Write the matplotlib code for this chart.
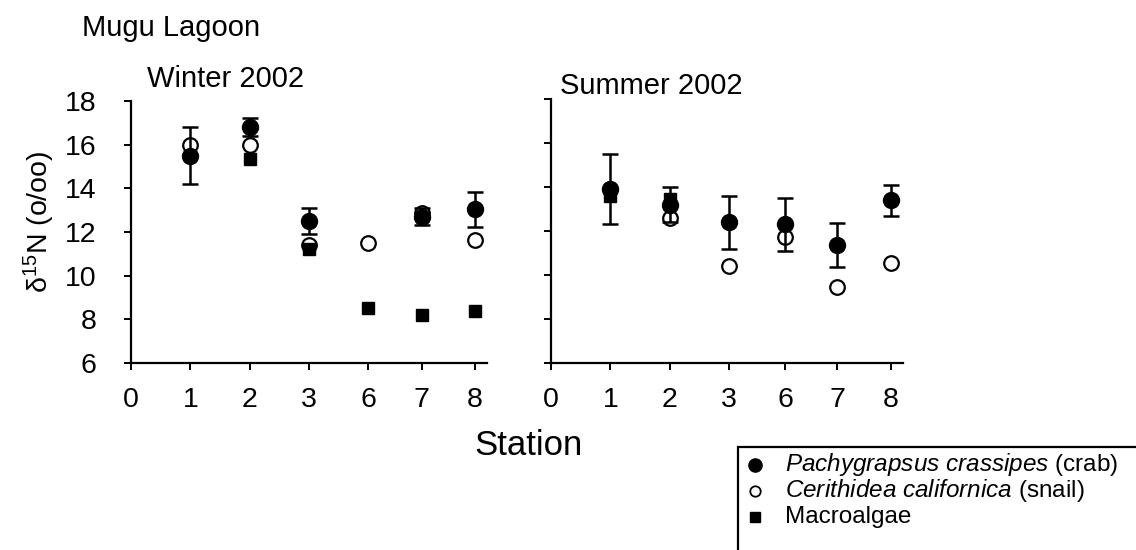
import numpy as np
import matplotlib
matplotlib.use("Agg")
import matplotlib.pyplot as plt
from matplotlib.lines import Line2D
from matplotlib.patches import Rectangle

plt.rcParams['font.family'] = ['Liberation Sans', 'DejaVu Sans']
plt.rcParams['mathtext.fontset'] = 'custom'
plt.rcParams['mathtext.rm'] = 'Liberation Sans'
plt.rcParams['mathtext.it'] = 'Liberation Sans:italic'

# ---- data ----
station_labels = ['0', '1', '2', '3', '6', '7', '8']
winter_pos = [0, 1, 2, 3, 4, 4.9, 5.8]
summer_pos = [0, 1, 2, 3, 3.95, 4.83, 5.73]

winter_crab = [15.5, 16.8, 12.5, np.nan, 12.7, 13.05]
winter_crab_err = [1.3, 0.4, 0.6, np.nan, 0.4, 0.8]
winter_snail = [16.0, 16.0, 11.4, 11.5, 12.85, 11.65]
winter_algae = [np.nan, 15.35, 11.2, 8.5, 8.2, 8.4]

summer_crab = [13.9, 13.2, 12.4, 12.3, 11.35, 13.4]
summer_crab_err = [1.6, 0.8, 1.2, 1.2, 1.0, 0.7]
summer_snail = [13.9, 12.6, 10.4, 11.75, 9.45, 10.55]
summer_algae = [13.6, 13.45, np.nan, np.nan, np.nan, np.nan]

W, H = 1136, 550
fig = plt.figure(figsize=(W / 100, H / 100), dpi=100)
fig.patch.set_facecolor('white')


def px_axes(x0, y0, x1, y1):
    return fig.add_axes([x0 / W, 1 - y1 / H, (x1 - x0) / W, (y1 - y0) / H])


ax1 = px_axes(131, 101, 487, 363)
ax2 = px_axes(551, 99, 903, 363)


def draw(ax, pos, crab, err, snail, algae, xmax, labels_y):
    xs = pos[1:]
    ax.plot(xs, snail, 'o', ms=10.5, mfc='white', mec='black', mew=1.6, ls='none', zorder=3)
    ax.errorbar(xs, crab, yerr=err, fmt='o', ms=11.5, mfc='black', mec='black',
                ecolor='black', elinewidth=1.8, capsize=6, capthick=1.8, zorder=4)
    ax.plot(xs, algae, 's', ms=9, mfc='black', mec='black', ls='none', zorder=5)
    ax.set_xlim(0, xmax)
    ax.set_ylim(6, 18)
    ax.set_xticks(pos)
    ax.set_xticklabels(station_labels)
    ax.set_yticks([6, 8, 10, 12, 14, 16, 18])
    if not labels_y:
        ax.set_yticklabels([])
    for s in ['top', 'right']:
        ax.spines[s].set_visible(False)
    for s in ['left', 'bottom']:
        ax.spines[s].set_linewidth(1.6)
        ax.spines[s].set_color('black')
    ax.tick_params(axis='both', direction='out', length=5, width=1.4, colors='black',
                   labelsize=20.5)
    ax.tick_params(axis='y', pad=20)
    ax.tick_params(axis='x', pad=12)
    ax.patch.set_visible(False)


draw(ax1, winter_pos, winter_crab, winter_crab_err, winter_snail, winter_algae, 6.0, True)
draw(ax2, summer_pos, summer_crab, summer_crab_err, summer_snail, summer_algae, 5.94, False)

fig.text(82 / W, 1 - 36 / H, 'Mugu Lagoon', fontsize=21, va='baseline', ha='left')
fig.text(147 / W, 1 - 87 / H, 'Winter 2002', fontsize=21, va='baseline', ha='left')
fig.text(560 / W, 1 - 94 / H, 'Summer 2002', fontsize=21, va='baseline', ha='left')
fig.text(529 / W, 1 - 455 / H, 'Station', fontsize=25, va='baseline', ha='center')
fig.text(39 / W, 1 - 222 / H, r'δ$^{15}$N (o/oo)', fontsize=20.5, rotation=90,
         va='center', ha='center')

# legend box (extends past the figure edge)
fig.patches.append(Rectangle((738 / W, -0.1), 0.5, (1 - 447 / H) + 0.1,
                             transform=fig.transFigure, fill=False,
                             edgecolor='black', linewidth=1.6, clip_on=False))
leg_y = [465, 491, 517]
leg_text = [r'$\it{Pachygrapsus\ crassipes}$ (crab)',
            r'$\it{Cerithidea\ californica}$ (snail)',
            'Macroalgae']
leg_style = [dict(marker='o', ms=9.5, mfc='black', mec='black'),
             dict(marker='o', ms=7.5, mfc='white', mec='black', mew=1.3),
             dict(marker='s', ms=7, mfc='black', mec='black')]
for y, t, st in zip(leg_y, leg_text, leg_style):
    fig.add_artist(Line2D([755 / W], [1 - y / H], transform=fig.transFigure,
                          ls='none', **st))
    fig.text(785 / W, 1 - y / H, t, fontsize=17.5, va='center', ha='left')

fig.savefig('out.png', dpi=100, facecolor='white')
